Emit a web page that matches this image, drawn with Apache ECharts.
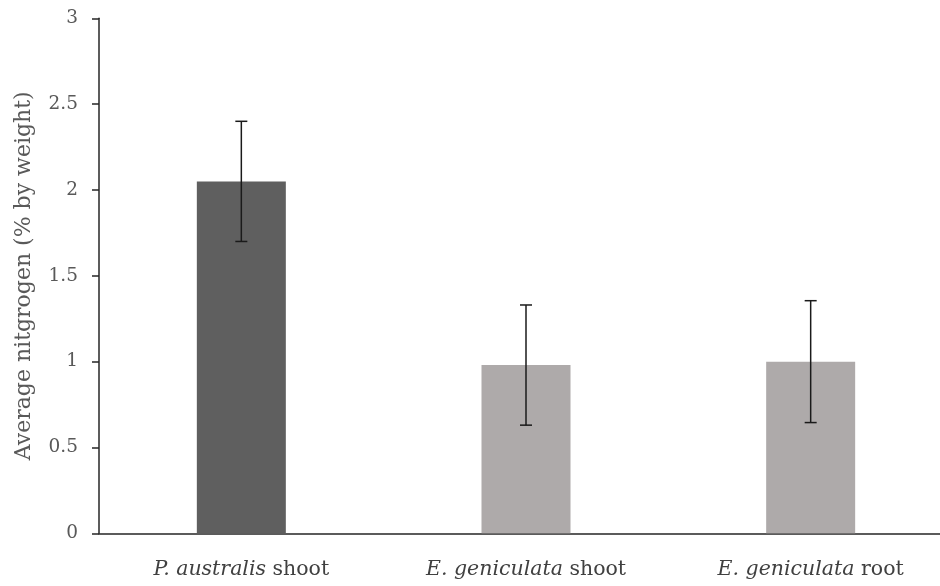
<!DOCTYPE html>
<html><head><meta charset="utf-8">
<script src="https://cdn.jsdelivr.net/npm/echarts@6/dist/echarts.min.js"></script>
<style>html,body{margin:0;padding:0;background:#fff;overflow:hidden}#c{width:953px;height:586px}</style>
</head><body><div id="c"></div>
<script>
const categories = ['P. australis shoot', 'E. geniculata shoot', 'E. geniculata root'];
const italicParts = ['P. australis', 'E. geniculata', 'E. geniculata'];
const plainParts = [' shoot', ' shoot', ' root'];
const means = [2.05, 0.98, 1.0];
const errors = [0.35, 0.35, 0.355];
const barColors = ['#5f5f5f', '#aeaaaa', '#aeaaaa'];
const yTicks = [0, 0.5, 1, 1.5, 2, 2.5, 3];

const chart = echarts.init(document.getElementById('c'), null, {renderer: 'canvas'});
const font = '"DejaVu Serif", serif';
chart.setOption({
  animation: false,
  grid: {left: 99, top: 18.3, bottom: 52.7, right: 0},
  xAxis: {
    type: 'category', data: categories,
    axisLine: {lineStyle: {color: '#262626', width: 1.5}},
    axisTick: {show: false},
    axisLabel: {
      margin: 26,
      formatter: function (v, i) { return '{i|' + italicParts[i] + '}{n|' + plainParts[i] + '}'; },
      rich: {
        i: {fontFamily: font, fontSize: 20.5, fontStyle: 'italic', color: '#404040'},
        n: {fontFamily: font, fontSize: 20.5, color: '#404040'}
      }
    }
  },
  yAxis: {
    type: 'value', min: yTicks[0], max: yTicks[yTicks.length - 1], interval: 0.5,
    name: 'Average nitgrogen (% by weight)', nameLocation: 'middle', nameGap: 64,
    nameTextStyle: {fontFamily: font, fontSize: 22, color: '#595959'},
    axisLine: {show: true, lineStyle: {color: '#262626', width: 1.5}},
    axisTick: {show: true, length: 7, lineStyle: {color: '#262626', width: 1.5}},
    splitLine: {show: false},
    axisLabel: {fontFamily: font, fontSize: 18.5, color: '#595959', margin: 21}
  },
  series: [
    {
      type: 'bar', barWidth: 89,
      data: means.map((v, i) => ({value: v, itemStyle: {color: barColors[i]}}))
    },
    {
      type: 'custom', z: 10,
      data: means.map((v, i) => [i, v - errors[i], v + errors[i]]),
      renderItem: function (params, api) {
        const lo = api.coord([api.value(0), api.value(1)]);
        const hi = api.coord([api.value(0), api.value(2)]);
        const cap = 6;
        const style = {stroke: '#1a1a1a', lineWidth: 1.5};
        return {type: 'group', children: [
          {type: 'line', shape: {x1: hi[0], y1: hi[1], x2: lo[0], y2: lo[1]}, style},
          {type: 'line', shape: {x1: hi[0] - cap, y1: hi[1], x2: hi[0] + cap, y2: hi[1]}, style},
          {type: 'line', shape: {x1: lo[0] - cap, y1: lo[1], x2: lo[0] + cap, y2: lo[1]}, style}
        ]};
      }
    }
  ]
});
</script></body></html>
